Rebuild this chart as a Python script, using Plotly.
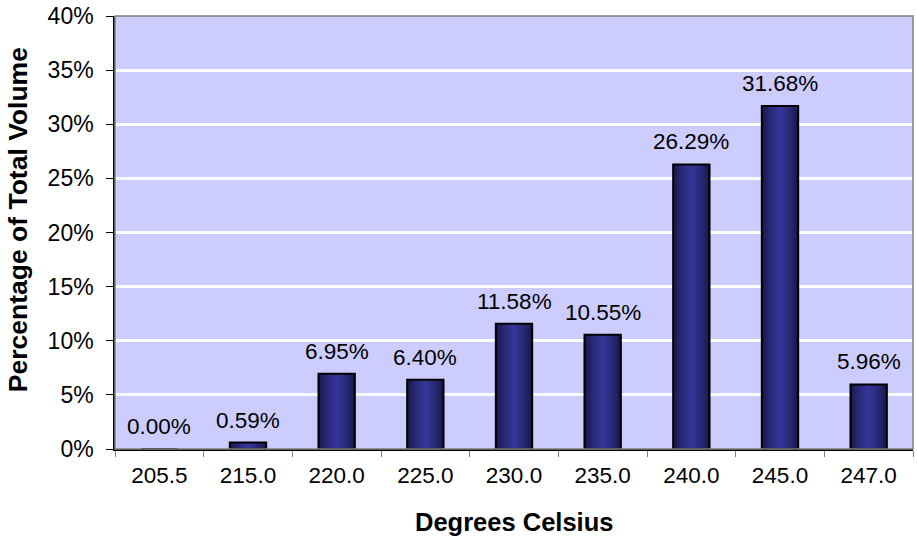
import plotly.graph_objects as go

categories = ["205.5", "215.0", "220.0", "225.0", "230.0", "235.0", "240.0", "245.0", "247.0"]
values = [0.0000, 0.0059, 0.0695, 0.0640, 0.1158, 0.1055, 0.2629, 0.3168, 0.0596]
labels = ["0.00%", "0.59%", "6.95%", "6.40%", "11.58%", "10.55%", "26.29%", "31.68%", "5.96%"]
y_ticks = [0, 0.05, 0.10, 0.15, 0.20, 0.25, 0.30, 0.35, 0.40]
y_tick_text = ["0%", "5%", "10%", "15%", "20%", "25%", "30%", "35%", "40%"]

FONT = "Liberation Sans, Arial, sans-serif"
BAR_W = 0.41

fig = go.Figure()

# gradient bars: stacked overlays, dark edges -> lighter centre
dark = (24, 24, 70)
light = (52, 52, 150)
n_layers = 9
for i in range(n_layers):
    t = i / (n_layers - 1)
    w = BAR_W * (1 - 0.85 * t)
    c = tuple(int(dark[k] + (light[k] - dark[k]) * (t ** 0.7)) for k in range(3))
    fig.add_trace(go.Bar(
        x=categories, y=values, width=w,
        marker=dict(color="rgb(%d,%d,%d)" % c, line=dict(width=0)),
        hoverinfo="skip", showlegend=False,
    ))

# outline
fig.add_trace(go.Bar(
    x=categories, y=values, width=BAR_W,
    marker=dict(color="rgba(0,0,0,0)", line=dict(color="black", width=2)),
    showlegend=False,
))

for i, (v, lab) in enumerate(zip(values, labels)):
    fig.add_annotation(x=i, y=v, text=lab, showarrow=False, yanchor="bottom",
                       yshift=8, font=dict(family=FONT, size=22.5, color="black"))

fig.add_annotation(x=-0.122, xref="paper", y=0.53, yref="paper",
                   text="<b>Percentage of Total Volume</b>", textangle=-90,
                   showarrow=False, xanchor="center", yanchor="middle",
                   font=dict(family=FONT, size=26.5, color="black"))
fig.add_annotation(x=0.5, xref="paper", y=-0.168, yref="paper",
                   text="<b>Degrees Celsius</b>", showarrow=False,
                   xanchor="center", yanchor="middle",
                   font=dict(family=FONT, size=25.5, color="black"))

fig.add_shape(type="rect", xref="paper", yref="paper", x0=0, x1=1, y0=0, y1=1,
              line=dict(color="#808080", width=1.5), layer="above")

fig.update_layout(
    width=917, height=537,
    margin=dict(l=115, r=4, t=16, b=88, autoexpand=False),
    barmode="overlay",
    plot_bgcolor="#CCCCFF",
    paper_bgcolor="white",
    font=dict(family=FONT, size=22.5, color="black"),
    xaxis=dict(
        type="category", tickson="boundaries", ticks="outside", ticklen=6,
        tickcolor="#808080", showgrid=False, showline=True, linecolor="black",
        linewidth=1.5, tickfont=dict(size=22.5), ticklabelstandoff=5,
        automargin=False, tickangle=0, range=[-0.5, 8.5],
        ticklabeloverflow="allow",
    ),
    yaxis=dict(
        range=[0, 0.40], tickvals=y_ticks, ticktext=y_tick_text,
        ticks="outside", ticklen=7, tickcolor="black",
        showgrid=True, gridcolor="white", gridwidth=3,
        showline=True, linecolor="black", linewidth=1.5,
        zeroline=False, tickfont=dict(size=23), ticklabelstandoff=8,
        automargin=False, ticklabeloverflow="allow",
    ),
)

fig.write_html("out.html", config={"displayModeBar": False},
               post_script="document.body.style.margin='0';document.body.style.overflow='hidden';")
